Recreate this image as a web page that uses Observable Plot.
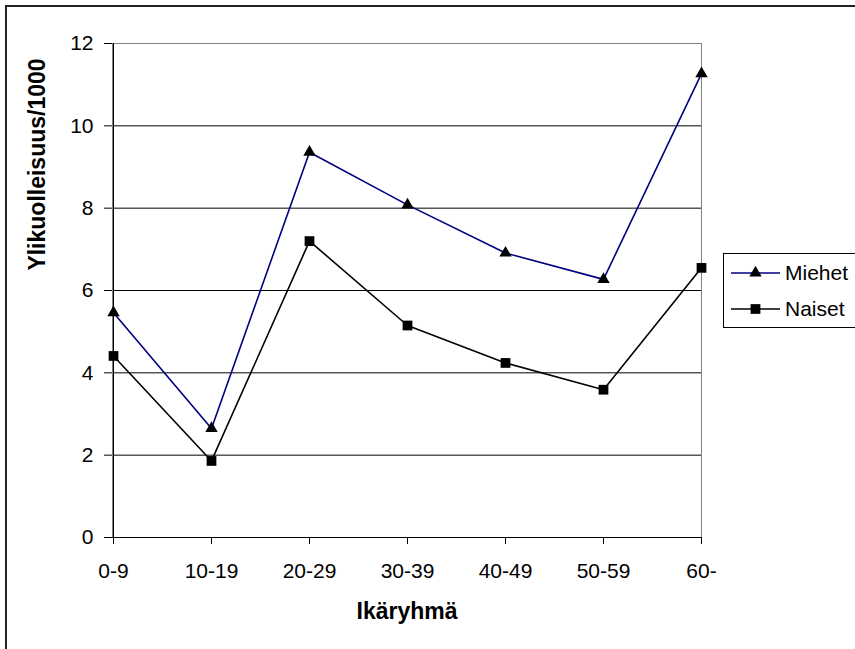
<!DOCTYPE html>
<html><head><meta charset="utf-8">
<script src="https://cdn.jsdelivr.net/npm/d3@7"></script>
<script src="https://cdn.jsdelivr.net/npm/@observablehq/plot@0.6"></script>
<style>
body{margin:0;background:#fff;}
#wrap{position:relative;width:855px;height:649px;overflow:hidden;background:#fff;}
#border{position:absolute;left:5px;top:5px;width:900px;height:700px;border-left:2px solid #222;border-top:2px solid #222;}
#wrap svg{position:absolute;left:0;top:0;}
</style></head><body>
<div id="wrap"><div id="border"></div></div>
<script>
const categories = ["0-9","10-19","20-29","30-39","40-49","50-59","60-"];
const miehet = [5.46, 2.65, 9.36, 8.08, 6.91, 6.27, 11.27];
const naiset = [4.41, 1.86, 7.20, 5.15, 4.24, 3.59, 6.55];
const yTicks = [0, 2, 4, 6, 8, 10, 12];
const seriesNames = ["Miehet", "Naiset"];
const seriesColors = ["#000080", "#000000"];
const seriesSymbols = ["triangle", "square"];
const xTitle = "Ikäryhmä";
const yTitle = "Ylikuolleisuus/1000";

const rows = [];
categories.forEach((c, i) => rows.push({age: c, value: miehet[i], series: "Miehet"}));
categories.forEach((c, i) => rows.push({age: c, value: naiset[i], series: "Naiset"}));

const font = "'Liberation Sans', Arial, sans-serif";

const chart = Plot.plot({
  width: 855,
  height: 649,
  marginLeft: 112,
  marginRight: 154,
  marginTop: 43,
  marginBottom: 112,
  style: {fontFamily: font, fontSize: "21px", color: "#000", background: "transparent", overflow: "visible"},
  x: {type: "point", domain: categories, padding: 0},
  y: {domain: [0, 12]},
  color: {domain: seriesNames, range: seriesColors},
  symbol: {domain: seriesNames, range: seriesSymbols},
  marks: [
    Plot.gridY(yTicks.filter(d => d > 0 && d < 12), {stroke: "#000", strokeOpacity: 1}),
    Plot.frame({stroke: "#808080"}),
    Plot.ruleY([0], {stroke: "#000"}),
    Plot.ruleX([categories[0]], {stroke: "#000"}),
    Plot.axisY({ticks: yTicks, tickSize: 8, tickPadding: 11, label: null, stroke: "#000", fontSize: 21}),
    Plot.axisX({tickSize: 7, tickPadding: 19, label: null, stroke: "#000", fontSize: 21}),
    Plot.line(rows, {x: "age", y: "value", z: "series", stroke: "series", strokeWidth: 1.6}),
    Plot.dot(rows.filter(d => d.series === "Miehet"), {x: "age", y: "value", symbol: "series", fill: "#000", stroke: "none", r: 4.6}),
    Plot.dot(rows.filter(d => d.series === "Naiset"), {x: "age", y: "value", symbol: "series", fill: "#000", stroke: "none", r: 5.5}),
    Plot.text([yTitle], {frameAnchor: "top-left", dx: -75, dy: 121, rotate: -90, textAnchor: "middle", lineAnchor: "middle", fontWeight: "bold", fontSize: 23, fill: "#000"}),
    Plot.text([xTitle], {frameAnchor: "bottom", dy: 74, lineAnchor: "middle", fontWeight: "bold", fontSize: 23, fill: "#000"})
  ]
});

// Legend
const svg = d3.select(chart);
const lg = svg.append("g").attr("font-family", font).attr("font-size", 21).attr("text-anchor", "start");
lg.append("rect").attr("x", 723.5).attr("y", 253.5).attr("width", 140).attr("height", 74)
  .attr("fill", "#fff").attr("stroke", "#000");
seriesNames.forEach((name, i) => {
  const y = 273 + i * 36;
  lg.append("line").attr("x1", 731).attr("x2", 780).attr("y1", y).attr("y2", y)
    .attr("stroke", seriesColors[i]).attr("stroke-width", 1.6);
  const sym = seriesSymbols[i] === "triangle" ? d3.symbolTriangle : d3.symbolSquare;
  const r = seriesSymbols[i] === "triangle" ? 4.6 : 5.5;
  lg.append("path").attr("transform", `translate(755.5,${y})`)
    .attr("d", d3.symbol(sym, Math.PI * r * r)()).attr("fill", "#000");
  lg.append("text").attr("x", 785).attr("y", y).attr("dy", "0.35em").attr("fill", "#000").text(name);
});

document.getElementById("wrap").appendChild(chart);
</script>
</body></html>
